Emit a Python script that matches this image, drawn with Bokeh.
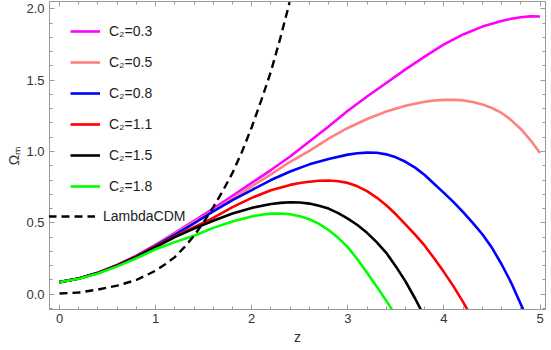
from bokeh.plotting import figure
from bokeh.models import (Legend, LegendItem, LinearAxis, Range1d, CustomLabelingPolicy,
                          SingleIntervalTicker, PrintfTickFormatter)
from bokeh.embed import file_html
from bokeh.resources import INLINE

# ---------------- data ----------------
z_c03 = [0, 0.2, 0.4, 0.6, 0.8, 1.0, 1.2, 1.4, 1.6, 1.8, 2.0, 2.2, 2.4, 2.6, 2.8, 3.0, 3.2, 3.4, 3.6, 3.8, 4.0, 4.2, 4.4, 4.6, 4.7, 4.8, 4.9, 5.0]
om_c03 = [0.085, 0.11, 0.15, 0.205, 0.27, 0.348, 0.43, 0.515, 0.60, 0.69, 0.78, 0.87, 0.965, 1.07, 1.175, 1.285, 1.385, 1.48, 1.575, 1.665, 1.75, 1.82, 1.875, 1.915, 1.93, 1.941, 1.947, 1.946]

z_c05 = [0, 0.2, 0.4, 0.6, 0.8, 1.0, 1.2, 1.4, 1.6, 1.8, 2.0, 2.2, 2.4, 2.6, 2.8, 3.0, 3.2, 3.4, 3.6, 3.8, 3.9, 4.0, 4.1, 4.2, 4.3, 4.4, 4.5, 4.6, 4.7, 4.8, 4.9, 5.0]
om_c05 = [0.085, 0.11, 0.15, 0.205, 0.268, 0.345, 0.425, 0.505, 0.585, 0.67, 0.755, 0.84, 0.928, 1.005, 1.09, 1.165, 1.228, 1.28, 1.32, 1.348, 1.357, 1.362, 1.363, 1.358, 1.347, 1.33, 1.305, 1.27, 1.22, 1.158, 1.08, 0.99]

z_c08 = [0, 0.2, 0.4, 0.6, 0.8, 1.0, 1.2, 1.4, 1.6, 1.8, 2.0, 2.2, 2.4, 2.6, 2.8, 3.0, 3.1, 3.2, 3.3, 3.4, 3.5, 3.6, 3.7, 3.8, 3.9, 4.0, 4.1, 4.2, 4.3, 4.4, 4.5, 4.6, 4.7, 4.8, 4.86]
om_c08 = [0.085, 0.11, 0.15, 0.204, 0.266, 0.34, 0.418, 0.497, 0.58, 0.66, 0.73, 0.80, 0.86, 0.91, 0.948, 0.978, 0.988, 0.992, 0.991, 0.98, 0.959, 0.928, 0.887, 0.835, 0.772, 0.71, 0.645, 0.575, 0.50, 0.42, 0.325, 0.21, 0.08, -0.07, -0.16]

z_c11 = [0, 0.2, 0.4, 0.6, 0.8, 1.0, 1.2, 1.4, 1.6, 1.8, 2.0, 2.2, 2.4, 2.5, 2.6, 2.7, 2.8, 2.9, 3.0, 3.1, 3.2, 3.3, 3.4, 3.5, 3.6, 3.7, 3.8, 3.9, 4.0, 4.1, 4.2, 4.28]
om_c11 = [0.085, 0.11, 0.149, 0.202, 0.263, 0.335, 0.405, 0.47, 0.535, 0.61, 0.675, 0.728, 0.766, 0.779, 0.788, 0.795, 0.797, 0.792, 0.78, 0.756, 0.722, 0.677, 0.623, 0.56, 0.49, 0.418, 0.34, 0.25, 0.155, 0.055, -0.055, -0.15]

z_c15 = [0, 0.2, 0.4, 0.6, 0.8, 1.0, 1.2, 1.4, 1.6, 1.8, 2.0, 2.2, 2.3, 2.4, 2.5, 2.6, 2.7, 2.8, 2.9, 3.0, 3.1, 3.2, 3.3, 3.4, 3.5, 3.6, 3.7, 3.8]
om_c15 = [0.085, 0.11, 0.148, 0.2, 0.26, 0.33, 0.40, 0.46, 0.515, 0.565, 0.605, 0.632, 0.64, 0.644, 0.643, 0.635, 0.62, 0.60, 0.568, 0.53, 0.485, 0.43, 0.365, 0.29, 0.195, 0.09, -0.03, -0.16]

z_c18 = [0, 0.2, 0.4, 0.6, 0.8, 1.0, 1.2, 1.4, 1.6, 1.8, 2.0, 2.1, 2.2, 2.3, 2.4, 2.5, 2.6, 2.7, 2.8, 2.9, 3.0, 3.1, 3.2, 3.3, 3.4, 3.5]
om_c18 = [0.085, 0.108, 0.145, 0.195, 0.252, 0.315, 0.365, 0.41, 0.465, 0.51, 0.545, 0.557, 0.565, 0.566, 0.56, 0.546, 0.525, 0.493, 0.45, 0.395, 0.33, 0.245, 0.15, 0.055, -0.045, -0.15]

z_lcdm = [0, 0.2, 0.4, 0.6, 0.8, 1.0, 1.1, 1.2, 1.3, 1.4, 1.5, 1.6, 1.7, 1.8, 1.9, 2.0, 2.1, 2.2, 2.3, 2.4, 2.45]
om_lcdm = [0.005, 0.012, 0.033, 0.06, 0.10, 0.165, 0.21, 0.26, 0.33, 0.41, 0.505, 0.61, 0.725, 0.85, 1.0, 1.17, 1.36, 1.56, 1.8, 2.06, 2.2]

labels = ["C₂=0.3", "C₂=0.5", "C₂=0.8", "C₂=1.1", "C₂=1.5", "C₂=1.8"]
colors = ["#FF00FF", "#FF8080", "#0000FF", "#FF0000", "#000000", "#00FF00"]
series = [(z_c03, om_c03), (z_c05, om_c05), (z_c08, om_c08),
          (z_c11, om_c11), (z_c15, om_c15), (z_c18, om_c18)]
lcdm_label = "LambdaCDM"

FONT = "Liberation Sans"
AXIS_COLOR = "#9a9a9a"
TEXT_COLOR = "#333333"

p = figure(width=551, height=350, output_backend="svg", toolbar_location=None,
           x_range=Range1d(-0.104, 5.057), y_range=Range1d(-0.107, 2.051),
           x_axis_label="z", y_axis_label="Ωₘ",
           min_border_left=49, min_border_right=6, min_border_top=1, min_border_bottom=41)
p.xgrid.visible = False
p.ygrid.visible = False
p.outline_line_color = AXIS_COLOR

xt = SingleIntervalTicker(interval=1, num_minor_ticks=5)
yt = SingleIntervalTicker(interval=0.5, num_minor_ticks=5)

no_labels = CustomLabelingPolicy(code="""
    for (const i of indices) { indices.unset(i) }
    return indices
""")

def style_axis(ax, show_labels=True):
    ax.axis_line_color = AXIS_COLOR
    ax.major_tick_line_color = AXIS_COLOR
    ax.minor_tick_line_color = AXIS_COLOR
    ax.major_tick_in = 5
    ax.major_tick_out = 0
    ax.minor_tick_in = 3
    ax.minor_tick_out = 0
    ax.major_label_text_font = FONT
    ax.major_label_text_color = TEXT_COLOR
    ax.axis_label_text_font = FONT
    ax.axis_label_text_color = TEXT_COLOR
    ax.axis_label_text_font_style = "normal"
    if show_labels:
        ax.major_label_text_font_size = "13px"
        ax.axis_label_text_font_size = "14px"
        ax.major_label_standoff = 5
        ax.axis_label_standoff = 3
    else:
        ax.major_label_text_font_size = "0px"
        ax.major_label_policy = no_labels
        ax.major_label_standoff = 0

p.xaxis.ticker = xt
p.yaxis.ticker = yt
p.xaxis.formatter = PrintfTickFormatter(format="%d")
p.yaxis.formatter = PrintfTickFormatter(format="%.1f")
style_axis(p.xaxis[0])
style_axis(p.yaxis[0])
p.yaxis[0].axis_label_standoff = 1
p.xaxis[0].major_label_standoff = 4

top_ax = LinearAxis(ticker=xt, formatter=PrintfTickFormatter(format="%d"))
right_ax = LinearAxis(ticker=yt, formatter=PrintfTickFormatter(format="%.1f"))
style_axis(top_ax, False)
style_axis(right_ax, False)
p.add_layout(top_ax, "above")
p.add_layout(right_ax, "right")

renderers = []
for (zz, oo), c in zip(series, colors):
    r = p.line(zz, oo, line_color=c, line_width=2.6, line_join="round")
    renderers.append(r)
r_l = p.line(z_lcdm, om_lcdm, line_color="black", line_width=2.4, line_dash="8 5")

leg1 = Legend(items=[LegendItem(label=l, renderers=[r]) for l, r in zip(labels, renderers)],
              location=(21, 113), glyph_width=30, glyph_height=20, label_height=20,
              spacing=11, padding=0, margin=0, label_standoff=9,
              label_text_font=FONT, label_text_font_size="14px", label_text_color="#222222",
              background_fill_alpha=0, border_line_alpha=0)
leg2 = Legend(items=[LegendItem(label=lcdm_label, renderers=[r_l])],
              location=(-1, 83), glyph_width=47, glyph_height=20, label_height=20,
              padding=0, margin=0, label_standoff=8,
              label_text_font=FONT, label_text_font_size="14px", label_text_color="#222222",
              background_fill_alpha=0, border_line_alpha=0)
p.add_layout(leg1)
p.add_layout(leg2)

open("out.html", "w").write(file_html(p, INLINE))
